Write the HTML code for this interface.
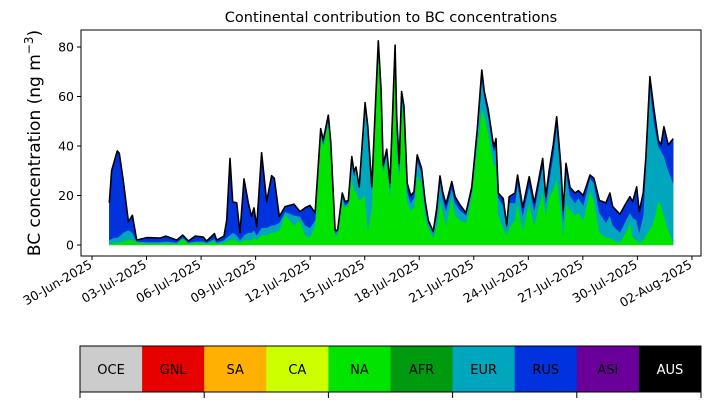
<!DOCTYPE html>
<html><head><meta charset="utf-8"><style>
html,body{margin:0;padding:0;background:#fff;}
svg{display:block;font-family:"DejaVu Sans","Liberation Sans",sans-serif;}
</style></head><body>
<svg id="chart" width="710" height="402" viewBox="0 0 710 402">
<text x="391" y="22" font-size="14.5" text-anchor="middle">Continental contribution to BC concentrations</text>
<text transform="translate(40,143) rotate(-90)" font-size="17" text-anchor="middle">BC concentration (ng m<tspan font-size="12" dy="-7">−3</tspan><tspan dy="7">)</tspan></text>
<g id="plot"></g>
<g id="cbar"></g>
</svg>
<script>
const dayOffsets=[0.95,1.08,1.23,1.39,1.50,1.72,2.00,2.22,2.46,3.01,3.74,4.07,4.66,4.99,5.30,5.67,6.12,6.31,6.73,6.86,7.26,7.41,7.59,7.74,7.96,8.14,8.36,8.60,8.78,8.91,9.06,9.33,9.61,9.88,10.03,10.30,10.62,11.11,11.44,11.72,11.99,12.27,12.58,12.72,13.00,13.13,13.37,13.51,13.77,13.92,14.10,14.29,14.41,14.52,14.70,15.02,15.17,15.39,15.75,15.90,16.02,16.21,16.39,16.67,16.76,16.90,17.03,17.16,17.34,17.53,17.71,17.89,18.13,18.32,18.50,18.77,18.96,19.14,19.29,19.47,19.79,19.97,20.24,20.57,20.89,21.19,21.44,21.58,21.80,22.04,22.11,22.22,22.35,22.62,22.81,22.95,23.27,23.41,23.69,24.05,24.33,24.79,24.96,25.15,25.37,25.56,25.78,25.92,26.07,26.29,26.57,26.75,27.02,27.39,27.61,27.91,28.27,28.49,28.64,29.04,29.37,29.59,29.74,29.96,30.10,30.32,30.47,30.69,30.91,31.15,31.30,31.46,31.70,31.97];
const totalVals=[17,30,34,38,37,26,9.4,12,2,3,2.8,3.6,2,4,1.6,3.6,3.2,1.6,4.6,2,3.6,10,35,17.5,17,5,26.7,17,11.5,15,7.4,37.3,17.5,28,27,11.5,15.5,16.5,13.5,15,16,13,47,42.4,52.5,42,6,6,21,17.5,18,35.7,29.6,31.5,23.5,57.5,48,23.5,82.5,62.6,32.3,38.7,25,80.8,51.8,33,62,56,25,20,21.5,36.4,31,18,10,5.4,14.8,27.9,21.5,16.5,25.6,19.5,16.2,13,23.5,46.5,70.7,62,54.5,42.4,39.7,43,21,18.8,8,19.5,21,28.3,15.2,27.6,17,35,19.5,30.3,40.4,51.8,33,14,33,23.3,21,22,20,28.3,27,18,17,21,15.5,12.4,16.8,19.5,17.5,23.5,13.5,21,35.7,68,55,42.4,40.4,47.8,40.4,43];
const naVals=[0.5,0.5,1,1,1,1.5,2,2,1,0.7,0.7,0.8,0.5,2.5,0.5,1,1,0.5,1.5,0.5,1,1.5,2,2,2,1,2,2,2,3,2,4,4,5,5,6,12,8,10,4,3,8,44,40,49,38,4,4,18,15,16,28,22,21.5,18,20,6,15,80,58,30,34,20,78,40,28,58,50,17,14,15,28,25,12,7,3,8,18,14,8,20,12,10,9,20,40,55,52,45,35,32,32,12,7,4,7,10,17,6,17,8,22,12,20,22,27,15,4,17,14,12,13,10,22,18,5,3,3,2,1,5,9,3,2,1,2,4,6,10,18,16,12,6,1];
const eurVals=[1.5,2,2,2,2.5,3.5,4,3,0.5,0.5,0.5,0.7,0.5,0.5,0.5,0.5,0.5,0.5,1,0.5,1,1.5,2,3,2,1,2,3,3,3,2,3,3,3,3,3,1.5,4,1.5,4,4,2,2,1,2,2,1,1.5,2,1,1,6,6,9.5,5,35,40,7,2,3,1,3,3,2,8,2,2,3,5,3,4,6,4,4,2,2,4,8,5,6,3,5,4,3,2,5,12,8,7,5,6,8,7,9,3,10,7,8,6,7,6,10,5,6,14,21,13,6,13,6,5,6,6,5,7,8,6,9,6,4,5,4,8,8,4,10,28,58,40,22,22,24,24,24];
const yTicks=[0,20,40,60,80];
const xTickLabels=["30-Jun-2025","03-Jul-2025","06-Jul-2025","09-Jul-2025","12-Jul-2025","15-Jul-2025","18-Jul-2025","21-Jul-2025","24-Jul-2025","27-Jul-2025","30-Jul-2025","02-Aug-2025"];
const xTickDays=[0,3,6,9,12,15,18,21,24,27,30,33];
const regions=["OCE","GNL","SA","CA","NA","AFR","EUR","RUS","ASI","AUS"];
const regionColors=["#cccccc","#e60000","#ffb000","#ccff00","#00e400","#009a10","#00a6bd","#0033dd","#6a0099","#000000"];

const NS="http://www.w3.org/2000/svg";
const PL=81,PR=701,PT=30,PB=256;
const xs=d=>92+d*18.18;
const ys=v=>245-v*2.475;
function mk(tag,attrs,parent){const e=document.createElementNS(NS,tag);for(const k in attrs)e.setAttribute(k,attrs[k]);parent.appendChild(e);return e;}
const plot=document.getElementById('plot');
const n=dayOffsets.length;
const base=new Array(n).fill(0);
const layers=[["na-area",naVals,"#00e400"],["eur-area",eurVals,"#00a6bd"],["rus-area",totalVals.map((t,i)=>Math.max(0,t-naVals[i]-eurVals[i])),"#0033dd"]];
let lower=base.slice();
layers.forEach(([name,vals,col])=>{
  const upper=lower.map((b,i)=>b+vals[i]);
  let d="M"+dayOffsets.map((t,i)=>xs(t).toFixed(1)+","+ys(upper[i]).toFixed(1)).join("L");
  for(let i=n-1;i>=0;i--)d+="L"+xs(dayOffsets[i]).toFixed(1)+","+ys(lower[i]).toFixed(1);
  const p=mk('path',{d:d+"Z",fill:col,stroke:col,'stroke-width':0.5},plot);
  
  
  lower=upper;
});
const tl=mk('path',{d:"M"+dayOffsets.map((t,i)=>xs(t).toFixed(1)+","+ys(totalVals[i]).toFixed(1)).join("L"),fill:"none",stroke:"#000",'stroke-width':1.6,'stroke-linejoin':'round'},plot);


const fr=mk('rect',{x:PL,y:PT,width:PR-PL,height:PB-PT,fill:"none",stroke:"#000",'stroke-width':1},plot);


yTicks.forEach(v=>{
  mk('line',{x1:PL-4,x2:PL,y1:ys(v),y2:ys(v),stroke:"#000"},plot);
  const t=mk('text',{x:PL-7,y:ys(v)+4.5,'font-size':12.5,'text-anchor':'end'},plot);
  t.textContent=v;
  
  
});
xTickDays.forEach((d,i)=>{
  const x=xs(d);
  mk('line',{x1:x,x2:x,y1:PB,y2:PB+4,stroke:"#000"},plot);
  const t=mk('text',{transform:`translate(${x+1},${PB+11}) rotate(-30)`,'font-size':12.5,'text-anchor':'end'},plot);
  t.textContent=xTickLabels[i];
  
  
});
const cb=document.getElementById('cbar');
const cw=(701-80)/regions.length;
regions.forEach((r,i)=>{
  const rc=mk('rect',{x:80+i*cw,y:346,width:cw+0.5,height:46,fill:regionColors[i]},cb);
  
  
  const t=mk('text',{x:80+i*cw+cw/2,y:374,'font-size':13,'text-anchor':'middle',fill:r==="AUS"?"#fff":"#000"},cb);
  t.textContent=r;
  
  
});
mk('rect',{x:80,y:346,width:621,height:46,fill:"none",stroke:"#000",'stroke-width':1},cb);
for(let i=0;i<=5;i++){const x=80+i*cw*2;mk('line',{x1:x,x2:x,y1:392,y2:398,stroke:"#000"},cb);}
</script>
</body></html>
